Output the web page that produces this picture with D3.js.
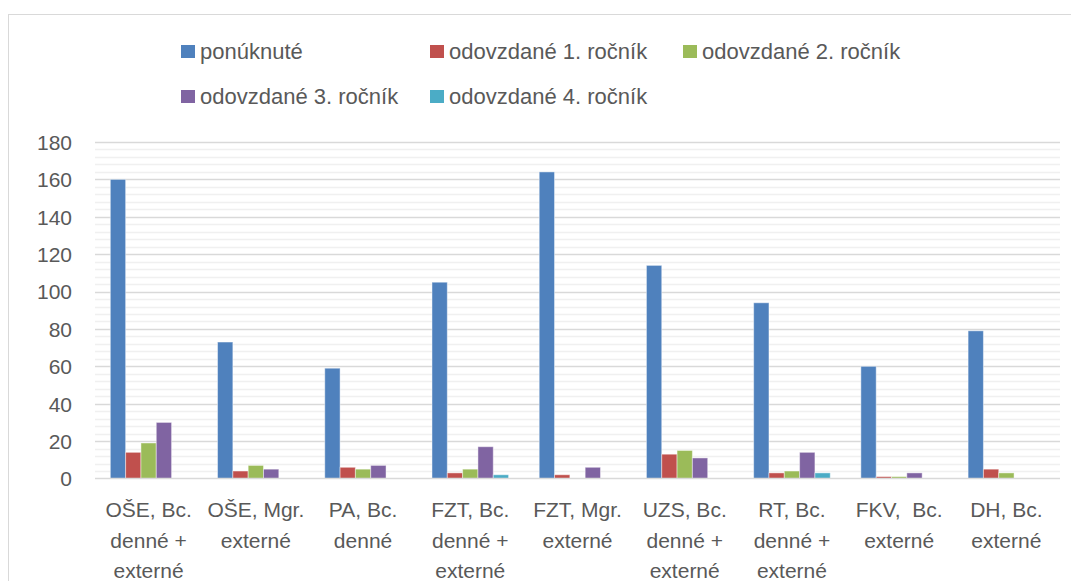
<!DOCTYPE html>
<html>
<head>
<meta charset="utf-8">
<script src="https://cdn.jsdelivr.net/npm/d3@7"></script>
<style>
  html, body { margin: 0; padding: 0; background: #fff; }
  svg { display: block; }
  text { font-family: "Liberation Sans", "DejaVu Sans", sans-serif; fill: #595959; }
</style>
</head>
<body>
<svg id="chart" width="1071" height="581"></svg>
<script>
const categories = [
  ["OŠE, Bc.", "denné +", "externé"],
  ["OŠE, Mgr.", "externé"],
  ["PA, Bc.", "denné"],
  ["FZT, Bc.", "denné +", "externé"],
  ["FZT, Mgr.", "externé"],
  ["UZS, Bc.", "denné +", "externé"],
  ["RT, Bc.", "denné +", "externé"],
  ["FKV,  Bc.", "externé"],
  ["DH, Bc.", "externé"]
];
const seriesNames = ["ponúknuté", "odovzdané 1. ročník", "odovzdané 2. ročník", "odovzdané 3. ročník", "odovzdané 4. ročník"];
const ponuknute = [160, 73, 59, 105, 164, 114, 94, 60, 79];
const rocnik1   = [14, 4, 6, 3, 2, 13, 3, 1, 5];
const rocnik2   = [19, 7, 5, 5, 0, 15, 4, 1, 3];
const rocnik3   = [30, 5, 7, 17, 6, 11, 14, 3, 0];
const rocnik4   = [0, 0, 0, 2, 0, 0, 3, 0, 0];
const yTicks = [0, 20, 40, 60, 80, 100, 120, 140, 160, 180];
const colors = ["#4F81BD", "#C0504D", "#9BBB59", "#8064A2", "#4BACC6"];

const seriesValues = [ponuknute, rocnik1, rocnik2, rocnik3, rocnik4];
const svg = d3.select("#chart");

// outer chart border
svg.append("rect").attr("x", 8.5).attr("y", 14.5).attr("width", 1100).attr("height", 600)
  .attr("fill", "none").attr("stroke", "#d9d9d9").attr("stroke-width", 1);

const plot = { left: 95, right: 1060, top: 142, bottom: 478.5 };
const catIdx = categories.map((d, i) => i);
const x = d3.scaleBand().domain(catIdx).range([plot.left, plot.right]).paddingInner(0).paddingOuter(0);
const y = d3.scaleLinear().domain([0, 180]).range([plot.bottom, plot.top]);

// minor gridlines
const minor = d3.range(4, 180, 4).filter(v => v % 20 !== 0);
svg.append("g").selectAll("line").data(minor).join("line")
  .attr("x1", plot.left).attr("x2", plot.right)
  .attr("y1", d => Math.round(y(d)) + 0.5).attr("y2", d => Math.round(y(d)) + 0.5)
  .attr("stroke", "#f0f0f0").attr("stroke-width", 1.5);

// major gridlines
svg.append("g").selectAll("line").data(yTicks.filter(v => v > 0)).join("line")
  .attr("x1", plot.left).attr("x2", plot.right)
  .attr("y1", d => Math.round(y(d)) + 0.5).attr("y2", d => Math.round(y(d)) + 0.5)
  .attr("stroke", "#d9d9d9").attr("stroke-width", 1.5);

// y axis labels
const yAxis = d3.axisLeft(y).tickValues(yTicks).tickSize(0).tickPadding(0);
const yg = svg.append("g").attr("transform", `translate(${72},0)`).call(yAxis);
yg.select(".domain").remove();
yg.selectAll("text").style("font-size", "21px").attr("fill", "#595959")
  .style("font-family", "'Liberation Sans', sans-serif").attr("dy", "0.35em");

// bars
const groupWidth = x.bandwidth() * 5 / 7;
const xs = d3.scaleBand().domain(d3.range(5)).range([0, groupWidth]).padding(0);
const barsG = svg.append("g");
seriesValues.forEach((vals, s) => {
  barsG.append("g").selectAll("rect").data(vals).join("rect")
    .attr("x", (d, i) => x(i) + (x.bandwidth() - groupWidth) / 2 + xs(s))
    .attr("y", d => y(d))
    .attr("width", xs.bandwidth())
    .attr("height", d => y(0) - y(d))
    .attr("fill", colors[s])
    .attr("stroke", d => d > 0 ? "rgba(255,255,255,0.45)" : "none")
    .attr("stroke-width", 1);
});

// baseline
svg.append("line").attr("x1", plot.left).attr("x2", plot.right)
  .attr("y1", plot.bottom).attr("y2", plot.bottom)
  .attr("stroke", "#d9d9d9").attr("stroke-width", 1.5);

// x labels
const xg = svg.append("g");
categories.forEach((lines, i) => {
  const t = xg.append("text").attr("x", x(i) + x.bandwidth() / 2).attr("y", 510)
    .attr("text-anchor", "middle").style("font-size", "21px").attr("xml:space", "preserve")
    .style("white-space", "pre");
  lines.forEach((ln, k) => {
    t.append("tspan").attr("x", x(i) + x.bandwidth() / 2).attr("y", 510 + k * 30.5).attr("dy", "0.35em").text(ln);
  });
});

// legend
const legendPos = [[181, 51.5], [430, 51.5], [683, 51.5], [181, 96.5], [430, 96.5]];
const lg = svg.append("g");
seriesNames.forEach((name, s) => {
  const [lx, ly] = legendPos[s];
  lg.append("rect").attr("x", lx).attr("y", ly - 6.5).attr("width", 14).attr("height", 13).attr("fill", colors[s]);
  lg.append("text").attr("x", lx + 19).attr("y", ly).attr("dy", "0.35em").style("font-size", "22px").text(name);
});
</script>
</body>
</html>
